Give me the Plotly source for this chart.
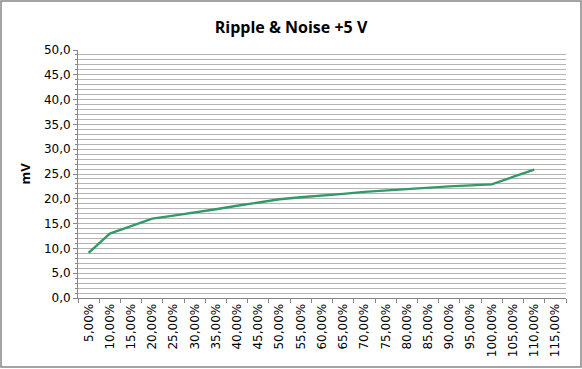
import plotly.graph_objects as go

categories = ["5,00%", "10,00%", "15,00%", "20,00%", "25,00%", "30,00%", "35,00%",
              "40,00%", "45,00%", "50,00%", "55,00%", "60,00%", "65,00%", "70,00%",
              "75,00%", "80,00%", "85,00%", "90,00%", "95,00%", "100,00%", "105,00%",
              "110,00%", "115,00%"]
ripple_mv = [9.1, 13.0, 14.5, 16.0, 16.6, 17.2, 17.9, 18.6, 19.3, 19.9, 20.3, 20.6,
             21.0, 21.4, 21.7, 22.0, 22.2, 22.5, 22.7, 22.9, 24.4, 25.9, None]

W, H = 582, 369
L, R, T, B = 78, 16, 50, 71
pw, ph = W - L - R, H - T - B

fig = go.Figure()
fig.add_trace(go.Scatter(x=categories, y=ripple_mv, mode="lines",
                         line=dict(color="#339966", width=2.4), connectgaps=False,
                         hoverinfo="x+y"))

fig.update_layout(
    width=W, height=H,
    margin=dict(l=L, r=R, t=T, b=B),
    paper_bgcolor="white", plot_bgcolor="white",
    separators=",.",
    showlegend=False,
    title=dict(text="<b>Ripple & Noise +5 V</b>", x=0.5, xanchor="center",
               y=1 - 27 / H, yanchor="middle",
               font=dict(family="Open Sans, Lato, sans-serif", size=16, color="black")),
    font=dict(family="DejaVu Sans, Verdana, sans-serif", size=12, color="black"),
    xaxis=dict(
        type="category", range=[-0.5, 22.5],
        tickangle=-90, tickson="boundaries", ticks="outside", ticklen=4,
        tickcolor="#868686", showline=True, linecolor="#868686", linewidth=1,
        showgrid=False, tickfont=dict(size=12),
    ),
    yaxis=dict(
        range=[0, 50], dtick=5, tickformat=".1f",
        ticks="outside", ticklen=4, tickcolor="#868686",
        showline=True, linecolor="#868686", linewidth=1,
        showgrid=True, gridcolor="#b4b4b4", gridwidth=1,
        zeroline=False,
        minor=dict(dtick=1, showgrid=True, gridcolor="#b4b4b4", gridwidth=1,
                   ticks="outside", ticklen=2, tickcolor="#868686"),
        title=dict(text="<b>mV</b>", standoff=10,
                   font=dict(family="Open Sans, Lato, sans-serif", size=13)),
        tickfont=dict(size=12),
    ),
    shapes=[dict(type="rect", xref="paper", yref="paper",
                 x0=(1 - L) / pw, x1=(581 - L) / pw,
                 y0=(T + ph - 367) / ph, y1=(T + ph - 1) / ph,
                 line=dict(color="#868686", width=1.5), fillcolor="rgba(0,0,0,0)",
                 layer="below")],
)

fig.write_html("out.html", config={"displayModeBar": False},
               post_script="document.body.style.margin='0';")
